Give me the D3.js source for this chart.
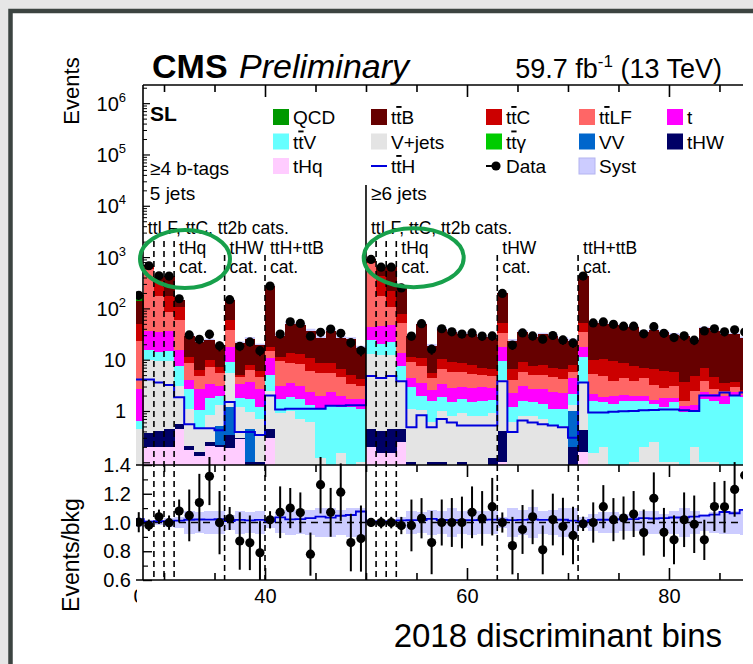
<!DOCTYPE html>
<html><head><meta charset="utf-8">
<script src="https://cdn.jsdelivr.net/npm/d3@7/dist/d3.min.js"></script>
<style>
html,body{margin:0;padding:0;background:#e6e6e6;overflow:hidden;}
svg{display:block;}
text{font-family:"Liberation Sans",Arial,Helvetica,sans-serif;fill:#000;white-space:pre;}
</style></head><body>
<svg id="chart" width="753" height="664"></svg>
<script>
// ================= DATA (bins 27 .. 87) =================
const bins = [27,28,29,30,31,32,33,34,35,36, 37,38,39,40,41,42,43,44,45,46,
              47,48,49,50,51,52,53,54,55,56, 57,58,59,60,61,62,63,64,65,66,
              67,68,69,70,71,72,73,74,75,76, 77,78,79,80,81,82,83,84,85,86, 87];
const tHq = [0,0.2,0.2,0.2,0.45,0.17,0.13,0.21,0.2,0.19, 0.28,0,0.05,0.3,0.05,0,0,0,0,0,
             0,0,0,0.2,0.15,0.15,0.25,0.05,0,0, 0,0,0,0,0,0,0.1,0,0,0,
             0,0,0,0,0.16,0,0,0,0,0, 0,0,0,0,0,0,0,0,0,0, 0];
const tHW = [0,0.18,0.2,0.25,0.1,0.04,0.03,0.04,0.02,0.15, 0.02,0.1,0.05,0.15,0,0,0,0,0,0,
             0,0,0,0.25,0.25,0.3,0.2,0.05,0.05,0.1, 0.1,0,0.1,0,0,0.12,0.3,0,0,0,
             0,0,0,0.2,0.26,0,0,0,0,0, 0,0,0,0,0,0,0,0,0,0, 0];
const VV = [0,0,0,0,0,0,0,0,0.3,0.86, 0,0.35,0,0,0,0,0,0,0,0,
            0,0,0,0,0,0,0,0,0,0, 0,0,0,0,0,0,0,0,0,0,
            0,0,0,0.8,0,0,0,0,0,0, 0,0,0,0,0,0,0,0,0,0, 0];
const Vjets = [0.45,9.6,9,9,2.55,0.86,0.3,0.59,0.8,4.3, 0.9,0.5,0.6,2.0,0.85,1.0,0.7,0.6,0.12,0.09,
               0.15,0.09,0.1,12.3,12,12,3.65,1.0,1.0,0.5, 0.9,0.8,0.8,0.8,0.8,0.8,3.7,0.6,0.8,0.8,
               0.7,0.5,0.5,0.3,3.2,0.15,0.2,0.05,0.05,0.1, 0.2,0.25,0.1,0.1,0.05,0.2,0.1,0.1,0.05,0.05, 0.05];
const ttV = [0.2,5.5,5,5,4.3,1.6,0.6,0.93,0.6,3.7, 0.6,0.8,0.5,2.5,0.8,0.9,1.0,0.7,0.95,1.2,
             1.05,1.1,1.0,11,8,10,3.3,1.8,0.9,1.0, 0.9,0.7,0.8,0.7,0.8,0.7,5.2,0.6,0.8,0.7,
             0.7,0.6,0.6,0.8,7.9,1.45,1.3,1.3,1.5,1.5, 1.4,1.1,1.1,1.4,0.9,0.8,1.6,1.5,1.3,2.0, 1.8];
const tSingle = [2.0,20,20,22,8.2,1.4,1.6,1.6,1.2,8.8, 1.5,2.0,1.5,6,1.4,1.6,1.4,1.0,0.93,1.1,
                 0.8,0.5,0.6,20,25,25,6,1.5,1.6,1.0, 1.4,1.3,1.2,1.3,1.4,1.2,8.7,1.0,1.5,1.2,
                 1.3,1.2,1.1,2.2,6.5,0.5,0.4,0.6,0.5,0.4, 0.4,0.3,0.6,0.3,0.3,0.3,0.6,0.5,0.6,0.3, 0.2];
const ttLF = [21,555,140,50,43,4.5,2.1,3.8,2.5,20, 1.2,2.6,1.8,4,6.2,5,5,3.6,3.5,3.0,
              2.5,1.7,1.4,716,130,60,38,4.5,3.9,1.8, 3.3,3.0,2.8,2.5,2.0,2.0,15,1.8,2.6,2.3,
              2.3,2.2,2.0,1.5,17,3.1,2.9,1.9,2.3,1.8, 2.4,1.5,1.0,1.3,0.3,1.1,1.5,0.6,0.5,0.6, 0.3];
const ttC = [27,60,170,90,47,2.9,1.6,2.6,1.5,21, 0.5,1.5,1.5,3,2.2,4.8,4.6,4.9,3.1,3.1,
             2.0,1.6,1.1,80,260,110,28,2.5,3.5,1.2, 3.5,3.2,3.0,2.7,2.0,1.8,18,2.5,3.3,2.5,
             3.0,2.5,2.3,2.0,16,4.8,5.3,5.7,4.3,3.7, 2.5,3.5,3.2,2.6,2.1,2.4,3.1,1.9,1.1,0.8, 0.2];
const ttB = [89,40,70,250,37,17.5,15.6,14,11.5,85, 16,18,13,250,18,36.6,35,26,18.4,28.5,
             20.5,20,12.8,60,200,420,176,18,38,13, 30,26,23,23,21,19.5,145,16.5,26,20.5,
             23,22,18.5,15.5,379,42,39,38.5,35,35, 27.5,31,29,25,25,19.5,34.5,31.5,28,27.3, 23.5];
const ttGamma = [0,0,0,0,0,0,0,0,0,0, 0,0,0,0,0,0,0,0,0,0,
                 0,0,0,0,0,0,0,0,0,0, 0,0,0,0,0,0,0,0,0,0,
                 0,0,0,0,0,0,0,0,0,0, 0,0,0,0,0,0,0,0,0,0, 0];
const QCD = [40,0,0,0,0,0,0,0,0,0, 0,0,0,0,0,0,0,0,0,0,
             0,0,0,0,0,0,0,0,0,0, 0,0,0,0,0,0,0,0,0,0,
             0,0,0,0,0,0,0,0,0,0, 0,0,0,0,0,0,0,0,0,0, 0];
const ttH = [4.1,4.1,3.6,3.2,1.85,0.55,0.46,0.46,0.42,1.5, 0.39,0.39,0.34,2.0,1.07,1.1,1.1,1.1,1.1,1.27,
             1.27,1.3,1.3,4.8,4.4,4.8,3.8,0.48,0.83,0.48, 0.70,0.60,0.52,0.52,0.52,0.52,3.8,0.39,0.65,0.60,
             0.55,0.52,0.48,0.3,3.6,0.94,0.94,0.97,0.99,1.0, 1.03,1.05,1.07,1.07,1.03,1.0,2.0,2.0,2.3,2.0, 2.3];
const dataObs = [180,677,431,426,154,30.4,25,31.4,18.6,148, 18.3,22.2,15,273,31.6,54.9,51,28.7,34.1,39.6,
                 32.7,21.5,15.1,900,635,637,250,28.8,50.4,16, 40.1,35,31.7,33.2,28.8,29,196,19.3,33.3,29.1,
                 25.1,29.6,24.3,21.2,426,52,54.5,49,45,45, 32,44,32.6,27,29.2,24,36.4,40.1,35,38.2, 34.6];
const dataErrRel = [0.07,0.04,0.05,0.05,0.08,0.18,0.2,0.2,0.22,0.08, 0.2,0.19,0.22,0.06,0.18,0.14,0.14,0.15,0.2,0.17,
                    0.2,0.2,0.23,0.03,0.04,0.04,0.06,0.18,0.14,0.22, 0.16,0.17,0.18,0.18,0.19,0.2,0.07,0.2,0.17,0.19,
                    0.17,0.18,0.2,0.2,0.05,0.14,0.15,0.15,0.15,0.16, 0.16,0.18,0.17,0.17,0.19,0.2,0.14,0.17,0.18,0.19, 0.2];
const systRel = [0.03,0.02,0.02,0.03,0.04,0.08,0.07,0.08,0.08,0.05, 0.08,0.07,0.08,0.04,0.07,0.09,0.08,0.09,0.1,0.1,
                 0.09,0.1,0.1,0.02,0.02,0.02,0.04,0.08,0.07,0.09, 0.08,0.1,0.08,0.09,0.08,0.08,0.04,0.1,0.09,0.11,
                 0.08,0.09,0.1,0.1,0.04,0.06,0.07,0.07,0.06,0.06, 0.08,0.08,0.06,0.08,0.1,0.08,0.06,0.07,0.08,0.08, 0.09];

// category boundaries (bin edges)
const solidBoundaries = [50];
const dashedLong = [29,30,31,51,52,53];
const dashedShort = [36,40,63,71];

// tick labels
const yTickValues = [1,10,100,1000,1e4,1e5,1e6];
const yTickText = ["1","10","10^2","10^3","10^4","10^5","10^6"];
const rTickValues = [0.6,0.8,1.0,1.2,1.4];
const rTickText = ["0.6","0.8","1.0","1.2","1.4"];
const xTickValues = [40,60,80];
const xTickText = ["40","60","80"];

// legend
const legendRows = [
  [["QCD","box","QCD"],["ttB","box","t{t}B"],["ttC","box","t{t}C"],["ttLF","box","t{t}LF"],["t","box","t"]],
  [["ttV","box","t{t}V"],["Vjets","box","V+jets"],["ttGamma","box","t{t}γ"],["VV","box","VV"],["tHW","box","tHW"]],
  [["tHq","box","tHq"],["ttH","line","t{t}H"],["data","marker","Data"],["syst","box","Syst"]]
];

// ================= STYLE =================
const colors = {
  tHq:"#ffccff", tHW:"#000066", VV:"#0066cc", Vjets:"#e4e4e4", ttV:"#66ffff", t:"#ff00ff",
  ttLF:"#ff6666", ttC:"#cc0000", ttB:"#660000", ttGamma:"#00cc00", QCD:"#009900",
  ttH:"#0000dd", syst:"#ccccff", data:"#000000"
};
const keys = ["tHq","tHW","VV","Vjets","ttV","t","ttLF","ttC","ttB","ttGamma","QCD"];

const table = bins.map((b,i)=>({
  bin:b, tHq:tHq[i], tHW:tHW[i], VV:VV[i], Vjets:Vjets[i], ttV:ttV[i], t:tSingle[i],
  ttLF:ttLF[i], ttC:ttC[i], ttB:ttB[i], ttGamma:ttGamma[i], QCD:QCD[i],
  ttH:ttH[i], data:dataObs[i], err:dataErrRel[i], syst:systRel[i]
}));
table.forEach(d=>{ d.total = keys.reduce((s,k)=>s+d[k],0); d.ratio = d.data/d.total; });
const stacked = d3.stack().keys(keys)(table);

// ================= LAYOUT =================
const svg = d3.select("#chart");
svg.append("rect").attr("width",753).attr("height",664).attr("fill","#e6e6e6");
svg.append("rect").attr("x",10.5).attr("y",11).attr("width",800).attr("height",720)
  .attr("fill","#ffffff").attr("stroke","#3c4441").attr("stroke-width",4.5);

const X0=143, X1=743, YT=85, YM=465, YB=580, XCLIP=136;
const x = d3.scaleLinear().domain([27.92, 87.33]).range([X0, X1]);
const y = d3.scaleLog().domain([0.0886, 2.26e6]).range([YM, YT]).clamp(true);
const yr = d3.scaleLinear().domain([0.6, 1.4]).range([YB, YM]);
const ylog = v => y(Math.max(v, 1e-4));

const defs = svg.append("defs");
defs.append("clipPath").attr("id","cMain").append("rect")
  .attr("x",XCLIP).attr("y",YT).attr("width",X1-XCLIP).attr("height",YM-YT);
defs.append("clipPath").attr("id","cRatio").append("rect")
  .attr("x",XCLIP).attr("y",YM).attr("width",X1-XCLIP).attr("height",YB-YM);
defs.append("clipPath").attr("id","cRatioPts").append("rect")
  .attr("x",XCLIP).attr("y",YM-8).attr("width",X1-XCLIP).attr("height",YB-YM+8);
defs.append("clipPath").attr("id","cStub").append("rect")
  .attr("x",120).attr("y",580).attr("width",17).attr("height",40);

// ---------- main panel ----------
const gMain = svg.append("g").attr("clip-path","url(#cMain)");
gMain.append("g").selectAll("rect").data(table).join("rect")
  .attr("x",d=>x(d.bin)).attr("width",d=>x(d.bin+1)-x(d.bin))
  .attr("y",d=>ylog(d.total*(1+d.syst)))
  .attr("height",d=>ylog(d.total*(1-d.syst))-ylog(d.total*(1+d.syst)))
  .attr("fill",colors.syst);
stacked.forEach(s=>{
  gMain.append("g").attr("shape-rendering","crispEdges").selectAll("rect").data(s).join("rect")
    .attr("x",d=>x(d.data.bin)).attr("width",d=>x(d.data.bin+1)-x(d.data.bin)+0.4)
    .attr("y",d=>ylog(d[1]))
    .attr("height",d=>Math.max(0, ylog(d[0])-ylog(d[1])))
    .attr("fill",colors[s.key]);
});
// ttH step line
const stepPts = [];
table.forEach(d=>{ stepPts.push([x(d.bin), ylog(d.ttH)]); stepPts.push([x(d.bin+1), ylog(d.ttH)]); });
gMain.append("path").attr("d", d3.line()(stepPts)).attr("fill","none")
  .attr("stroke",colors.ttH).attr("stroke-width",2);

// ---------- ratio panel ----------
const gRatio = svg.append("g").attr("clip-path","url(#cRatio)");
gRatio.append("g").selectAll("rect").data(table).join("rect")
  .attr("x",d=>x(d.bin)).attr("width",d=>x(d.bin+1)-x(d.bin)+0.4)
  .attr("y",d=>yr(1+d.syst)).attr("height",d=>yr(1-d.syst)-yr(1+d.syst))
  .attr("fill",colors.syst).attr("shape-rendering","crispEdges");
gRatio.append("line").attr("x1",X0).attr("x2",X1).attr("y1",yr(1)).attr("y2",yr(1))
  .attr("stroke","#000").attr("stroke-width",1.5).attr("stroke-dasharray","7,5");
const rPts = [];
table.forEach(d=>{ const v = 1 + d.ttH/d.total; rPts.push([x(d.bin), yr(v)]); rPts.push([x(d.bin+1), yr(v)]); });
gRatio.append("path").attr("d", d3.line()(rPts)).attr("fill","none")
  .attr("stroke",colors.ttH).attr("stroke-width",1.8);

// ---------- category lines ----------
const gLines = svg.append("g");
solidBoundaries.forEach(b=>{
  gLines.append("line").attr("x1",x(b)).attr("x2",x(b)).attr("y1",185).attr("y2",YB)
    .attr("stroke","#000").attr("stroke-width",1.6);
});
dashedLong.forEach(b=>{
  gLines.append("line").attr("x1",x(b)).attr("x2",x(b)).attr("y1",241).attr("y2",YB)
    .attr("stroke","#000").attr("stroke-width",1.6).attr("stroke-dasharray","6,4");
});
dashedShort.forEach(b=>{
  gLines.append("line").attr("x1",x(b)).attr("x2",x(b)).attr("y1",255).attr("y2",YB)
    .attr("stroke","#000").attr("stroke-width",1.6).attr("stroke-dasharray","6,4");
});

// ---------- data points ----------
const gData = svg.append("g").attr("clip-path","url(#cMain)");
gData.selectAll("line").data(table).join("line")
  .attr("x1",d=>x(d.bin+0.5)).attr("x2",d=>x(d.bin+0.5))
  .attr("y1",d=>ylog(d.data*(1+d.err))).attr("y2",d=>ylog(d.data*(1-d.err)))
  .attr("stroke","#000").attr("stroke-width",2);
gData.selectAll("circle").data(table).join("circle")
  .attr("cx",d=>x(d.bin+0.5)).attr("cy",d=>ylog(d.data)).attr("r",4.6).attr("fill","#000");

const gRData = svg.append("g").attr("clip-path","url(#cRatioPts)");
gRData.selectAll("line").data(table).join("line")
  .attr("x1",d=>x(d.bin+0.5)).attr("x2",d=>x(d.bin+0.5))
  .attr("y1",d=>yr(d.ratio+d.err)).attr("y2",d=>yr(d.ratio-d.err))
  .attr("stroke","#000").attr("stroke-width",2);
gRData.selectAll("circle").data(table).join("circle")
  .attr("cx",d=>x(d.bin+0.5)).attr("cy",d=>yr(d.ratio)).attr("r",4.6).attr("fill","#000");

// ---------- frame & ticks ----------
const gAx = svg.append("g");
const frame = (x1,y1,x2,y2)=>gAx.append("line").attr("x1",x1).attr("y1",y1).attr("x2",x2).attr("y2",y2)
  .attr("stroke","#000").attr("stroke-width",1.6);
frame(X0,YT,X1,YT); frame(X0,YT,X0,YB); frame(XCLIP,YM,X1,YM); frame(XCLIP,YB,X1,YB);

const minorX = [30,35,45,50,55,65,70,75,85];
function tickAxis(axisFn, scale, vals, size, ty, tx){
  const g = gAx.append("g").attr("transform",`translate(${tx||0},${ty||0})`)
    .call(axisFn(scale).tickValues(vals).tickSize(size).tickFormat(""));
  g.select(".domain").remove();
  g.selectAll("line").attr("stroke","#000").attr("stroke-width",1.6);
}
tickAxis(d3.axisBottom, x, minorX, 7, YT);
tickAxis(d3.axisBottom, x, xTickValues, 12, YT);
tickAxis(d3.axisBottom, x, minorX, 7, YM);
tickAxis(d3.axisBottom, x, xTickValues, 12, YM);
tickAxis(d3.axisTop, x, minorX, 7, YB);
tickAxis(d3.axisTop, x, xTickValues, 12, YB);
// log ticks
const yMinor = [];
[0.1,1,10,100,1000,1e4,1e5,1e6].forEach(dec=>{ for(let m=2;m<=9;m++){ const v=dec*m; if(v<2.26e6) yMinor.push(v);} });
(function(){
  const g1 = gAx.append("g").attr("transform",`translate(${X0},0)`)
    .call(d3.axisRight(y).tickValues([0.1].concat(yTickValues)).tickSize(7).tickFormat(""));
  g1.select(".domain").remove(); g1.selectAll("line").attr("stroke","#000").attr("stroke-width",1.2);
  const g2 = gAx.append("g").attr("transform",`translate(${X0},0)`)
    .call(d3.axisRight(y).tickValues(yMinor).tickSize(4).tickFormat(""));
  g2.select(".domain").remove(); g2.selectAll("line").attr("stroke","#000").attr("stroke-width",1);
  const g3 = gAx.append("g").attr("transform",`translate(${X0},0)`)
    .call(d3.axisRight(yr).tickValues(rTickValues).tickSize(9).tickFormat(""));
  g3.select(".domain").remove(); g3.selectAll("line").attr("stroke","#000").attr("stroke-width",1.4);
  const g4 = gAx.append("g").attr("transform",`translate(${X0},0)`)
    .call(d3.axisRight(yr).tickValues([0.7,0.9,1.1,1.3]).tickSize(5).tickFormat(""));
  g4.select(".domain").remove(); g4.selectAll("line").attr("stroke","#000").attr("stroke-width",1.2);
})();

// ---------- tick labels ----------
function supText(g, px, py, str, size, anchor){
  const t = g.append("text").attr("x",px).attr("y",py).attr("text-anchor",anchor).style("font-size",size+"px");
  const parts = str.split("^");
  t.append("tspan").text(parts[0]);
  if(parts[1]) t.append("tspan").attr("dy",-9).style("font-size",(size*0.65)+"px").text(parts[1]);
  return t;
}
yTickValues.forEach((v,i)=> supText(gAx, 126, y(v)+7.5, yTickText[i], 20, "end"));
rTickValues.forEach((v,i)=> gAx.append("text").attr("x",131).attr("y",yr(v)+7).attr("text-anchor","end")
  .style("font-size","20px").text(rTickText[i]));
const gxl = gAx.append("g").attr("transform",`translate(0,${YB})`)
  .call(d3.axisBottom(x).tickValues(xTickValues).tickSize(0).tickPadding(9).tickFormat((d,i)=>xTickText[i]));
gxl.select(".domain").remove();
gxl.selectAll("text").style("font-size","20px").style("font-family",'"Liberation Sans",Arial,sans-serif');
gAx.append("text").attr("x",139).attr("y",603).attr("text-anchor","middle").attr("clip-path","url(#cStub)")
  .style("font-size","20px").text("0");

// axis titles
svg.append("text").attr("transform","translate(79,91) rotate(-90)").attr("text-anchor","middle")
  .style("font-size","22px").text("Events");
svg.append("text").attr("transform","translate(79,555) rotate(-90)").attr("text-anchor","middle")
  .style("font-size","23px").text("Events/bkg");
svg.append("text").attr("x",722).attr("y",647).attr("text-anchor","end")
  .style("font-size","33px").text("2018 discriminant bins");

// title
svg.append("text").attr("x",152).attr("y",78).style("font-size","34px").style("font-weight","bold").text("CMS");
svg.append("text").attr("x",239).attr("y",78).style("font-size","34px").style("font-style","italic").text("Preliminary");
(function(){
  const t = svg.append("text").attr("x",722).attr("y",78).attr("text-anchor","end").style("font-size","27px");
  t.append("tspan").text("59.7 fb");
  t.append("tspan").attr("dy",-11).style("font-size","17px").text("-1");
  t.append("tspan").attr("dy",11).text(" (13 TeV)");
})();

// ---------- annotations ----------
const gT = svg.append("g");
function label(px,py,str,size,extra){
  const t = gT.append("text").attr("x",px).attr("y",py).style("font-size",size+"px").text(str);
  if(extra) extra(t);
  return t;
}
label(150,121,"SL",21,t=>t.style("font-weight","bold"));
label(150,175,"≥4 b-tags",19);
label(x(28)+6,200,"5 jets",19);
label(x(50)+5,200,"≥6 jets",19);
[[28,4],[50,5]].forEach(([b,o])=> label(x(b)+o,233.5,"ttLF, ttC, tt2b cats.",17.5));
[[31,"tHq"],[36,"tHW"],[40,"ttH+ttB"],[53,"tHq"],[63,"tHW"],[71,"ttH+ttB"]].forEach(([b,s])=>{
  label(x(b)+5,253.5,s,17.5);
  label(x(b)+5,273,"cat.",17.5);
});

// ellipses
svg.append("ellipse").attr("cx",185).attr("cy",259).attr("rx",45).attr("ry",29)
  .attr("fill","none").attr("stroke","#17a04b").attr("stroke-width",4);
svg.append("ellipse").attr("cx",413.7).attr("cy",257.7).attr("rx",50).attr("ry",29.5)
  .attr("fill","none").attr("stroke","#17a04b").attr("stroke-width",4);

// ---------- legend ----------
const colX = [273, 371, 486, 579, 667];
const rowY = [117, 141.5, 166];
const gL = svg.append("g");
legendRows.forEach((row,ri)=>{
  row.forEach((e,ci)=>{
    const [key,kind,lab] = e;
    const bx = colX[ci], cy = rowY[ri];
    if(kind==="box"){
      gL.append("rect").attr("x",bx).attr("y",cy-8).attr("width",16).attr("height",16)
        .attr("fill",colors[key]).attr("stroke", key==="syst" ? "#b4b4f0" : "none");
    } else if(kind==="line"){
      gL.append("line").attr("x1",bx).attr("x2",bx+16).attr("y1",cy).attr("y2",cy)
        .attr("stroke",colors.ttH).attr("stroke-width",2);
    } else {
      gL.append("line").attr("x1",bx).attr("x2",bx+12).attr("y1",cy).attr("y2",cy)
        .attr("stroke","#000").attr("stroke-width",2);
      gL.append("circle").attr("cx",bx+10).attr("cy",cy).attr("r",4.6).attr("fill","#000");
    }
    const t = gL.append("text").attr("x",bx+20).attr("y",cy+7).style("font-size","19px");
    lab.split(/(\{t\})/).forEach(part=>{
      if(part==="") return;
      if(part==="{t}") t.append("tspan").style("text-decoration","overline").text("t");
      else t.append("tspan").text(part);
    });
  });
});
</script>
</body></html>
